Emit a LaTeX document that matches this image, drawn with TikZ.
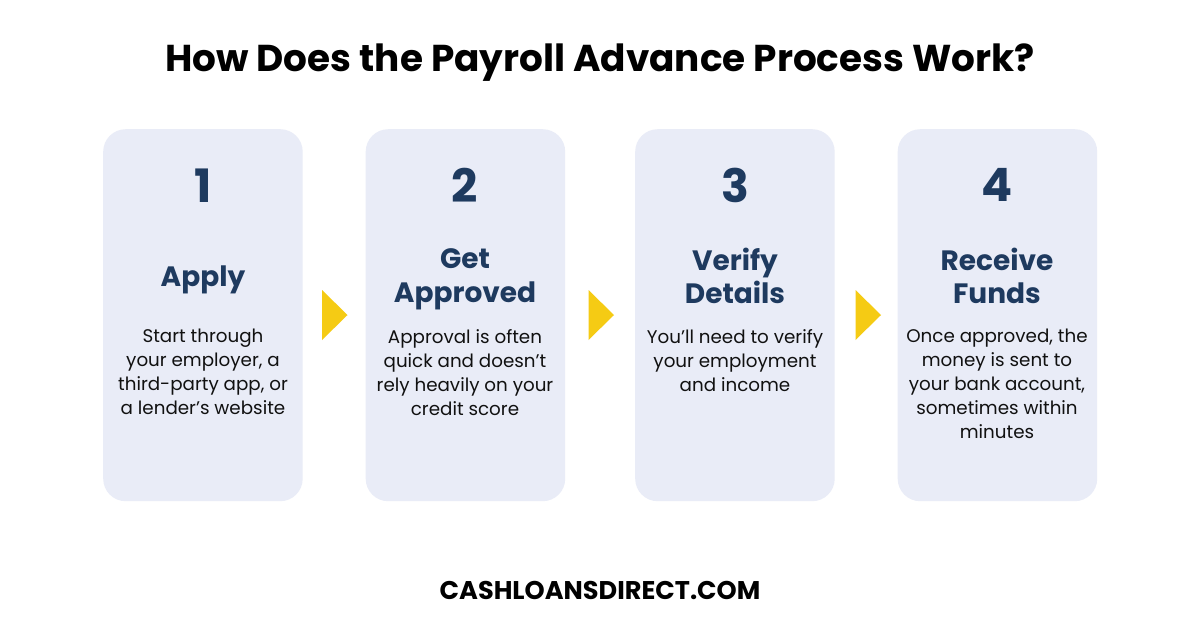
\documentclass[tikz,border=0pt]{standalone}
\usepackage{fontspec}
\setmainfont{Poppins}
\definecolor{card}{HTML}{E9ECF7}
\definecolor{navy}{HTML}{1E3A5F}
\definecolor{amber}{HTML}{F5CB14}
\definecolor{body}{HTML}{111111}
\newcommand{\hl}{\vphantom{Apy}}
\newcommand{\bl}{\vphantom{Apy}}
\tikzset{
 cardbox/.style={fill=card,rounded corners=22.5pt,minimum width=199.5pt,minimum height=372pt,inner sep=0pt,anchor=north west},
 numtext/.style={text=navy,font=\fontsize{46}{46}\selectfont\bfseries,anchor=center,inner sep=0},
 headtext/.style={text=navy,font=\fontsize{28}{33.5}\selectfont\bfseries,align=center,anchor=center,inner sep=0},
 bodytext/.style={text=body,font=\fontsize{18.3}{24}\selectfont,align=center,anchor=north,inner sep=0},
 titletext/.style={text=black,font=\fontsize{37.4}{37.4}\selectfont\bfseries,anchor=center,inner sep=0},
 foottext/.style={text=black,font=\fontsize{25.6}{25.6}\selectfont\bfseries,anchor=center,inner sep=0},
 arrowmark/.style={fill=amber,draw=none},
}
\begin{document}
\begin{tikzpicture}[x=1pt,y=-1pt]
\useasboundingbox (0,0) rectangle (1200,630);
\fill[white] (0,0) rectangle (1200,630);
\node[titletext] (title) at (600,63) {How Does the Payroll Advance Process Work?};
\node[cardbox] (c1) at (103,129) {};
\node[cardbox] (c2) at (365.5,129) {};
\node[cardbox] (c3) at (635,129) {};
\node[cardbox] (c4) at (897.5,129) {};
\node[numtext] (n1) at (203,185) {\vphantom{2}1};
\node[numtext] (n2) at (465,185) {2};
\node[numtext] (n3) at (735,185) {3};
\node[numtext] (n4) at (997,185) {4};
\node[headtext] (h1) at (203,279.5) {\hl Apply};
\node[headtext] (h2) at (465,279.5) {\hl Get\\\hl Approved};
\node[headtext] (h3) at (735,279.5) {\hl Verify\\\hl Details};
\node[headtext] (h4) at (997,279.5) {\hl Receive\\\hl Funds};
\node[bodytext] (b1) at (203,329) {\bl Start through\\your employer, a\\third-party app, or\\a lender’s website};
\node[bodytext] (b2) at (465,329) {\bl Approval is often\\quick and doesn’t\\rely heavily on your\\credit score};
\node[bodytext] (b3) at (735,329) {\bl You’ll need to verify\\your employment\\and income};
\node[bodytext] (b4) at (997,329) {\bl Once approved, the\\money is sent to\\your bank account,\\sometimes within\\minutes};
\fill[arrowmark] (322,290) -- (347.5,315) -- (322,340) -- cycle;
\fill[arrowmark] (588.5,290) -- (614,315) -- (588.5,340) -- cycle;
\fill[arrowmark] (855.5,290) -- (881,315) -- (855.5,340) -- cycle;
\node[foottext] (foot) at (600,590) {CASHLOANSDIRECT.COM};
\end{tikzpicture}
\end{document}
